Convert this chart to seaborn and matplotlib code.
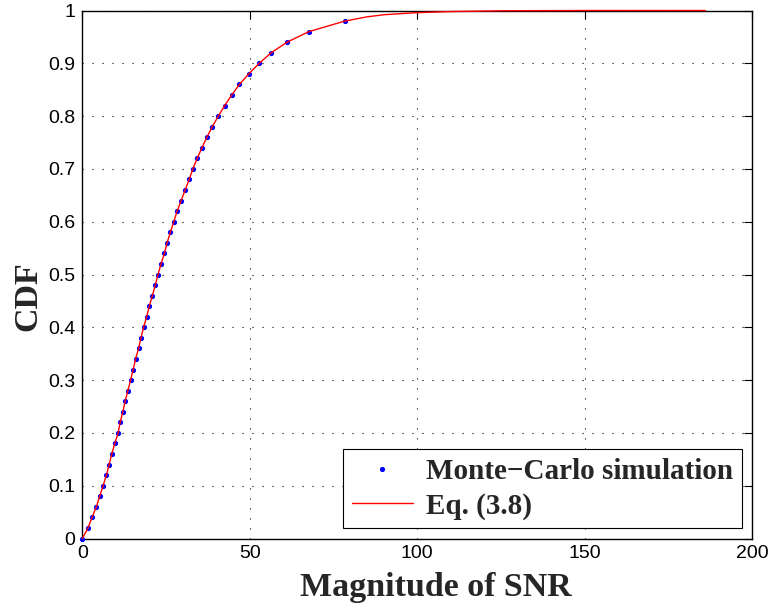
import matplotlib
matplotlib.use("Agg")
import matplotlib.pyplot as plt
import seaborn as sns
import pandas as pd

# Monte-Carlo simulation points
mc_snr = [0.0, 1.7, 2.9, 4.2, 5.2, 6.2, 7.2, 8.0, 8.8, 9.7,
          10.7, 11.3, 12.1, 12.8, 13.6, 14.4, 15.2, 15.9, 16.8, 17.5,
          18.3, 19.2, 20.0, 20.9, 21.8, 22.6, 23.5, 24.5, 25.3, 26.3,
          27.3, 28.3, 29.5, 30.7, 31.9, 33.0, 34.3, 35.7, 37.2, 38.8,
          40.6, 42.5, 44.6, 46.9, 49.7, 52.8, 56.4, 61.1, 67.6, 78.4]
mc_cdf = [0.00, 0.02, 0.04, 0.06, 0.08, 0.10, 0.12, 0.14, 0.16, 0.18,
          0.20, 0.22, 0.24, 0.26, 0.28, 0.30, 0.32, 0.34, 0.36, 0.38,
          0.40, 0.42, 0.44, 0.46, 0.48, 0.50, 0.52, 0.54, 0.56, 0.58,
          0.60, 0.62, 0.64, 0.66, 0.68, 0.70, 0.72, 0.74, 0.76, 0.78,
          0.80, 0.82, 0.84, 0.86, 0.88, 0.90, 0.92, 0.94, 0.96, 0.98]

# Eq. (3.8) curve
eq_snr = mc_snr + [85.0, 90.0, 100.0, 110.0, 125.0, 150.0, 186.0]
eq_cdf = mc_cdf + [0.988, 0.992, 0.996, 0.998, 0.9995, 1.0, 1.0]

x_ticks = [0, 50, 100, 150, 200]
y_ticks = [0, 0.1, 0.2, 0.3, 0.4, 0.5, 0.6, 0.7, 0.8, 0.9, 1]
y_tick_labels = ["0", "0.1", "0.2", "0.3", "0.4", "0.5", "0.6", "0.7", "0.8", "0.9", "1"]

sns.set_theme(style="white")
plt.rcParams["font.family"] = ["Liberation Sans", "DejaVu Sans"]

fig = plt.figure(figsize=(7.72, 6.04), dpi=100)
ax = fig.add_axes([0.1066, 0.1084, 0.8679, 0.8742])

mc_df = pd.DataFrame({"snr": mc_snr, "cdf": mc_cdf})
eq_df = pd.DataFrame({"snr": eq_snr, "cdf": eq_cdf})

ax.plot(mc_df["snr"], mc_df["cdf"], linestyle="none", marker=".",
        markersize=5.5, color="#0000ff", label="Monte\u2212Carlo simulation", zorder=4)
sns.lineplot(data=eq_df, x="snr", y="cdf", ax=ax, color="#ff0000", linewidth=1.0,
             label="Eq. (3.8)", sort=False, estimator=None, zorder=5)
for ln in ax.get_lines():
    ln.set_clip_on(False)

ax.set_xlim(0, 200)
ax.set_ylim(0, 1)
ax.set_xticks(x_ticks)
ax.set_yticks(y_ticks)
ax.set_yticklabels(y_tick_labels)
ax.tick_params(direction="in", length=6, width=0.8, top=True, right=True,
               labelsize=14, colors="black", pad=5)
for s in ax.spines.values():
    s.set_color("black")
    s.set_linewidth(1.0)
    s.set_zorder(3)

ax.grid(True, color="black", linestyle=(0, (1, 8)), linewidth=0.8)

serif_bold = dict(family=["Liberation Serif", "DejaVu Serif"], weight="bold", size=24.5)
ax.set_xlabel("Magnitude of SNR", fontdict=serif_bold)
ax.set_ylabel("CDF", fontdict=serif_bold)
ax.xaxis.set_label_coords(0.528, -0.063)
ax.yaxis.set_label_coords(-0.058, 0.46)

leg = ax.legend(loc="lower right", frameon=True, fancybox=False, framealpha=1,
                edgecolor="black", borderaxespad=0.35, handlelength=2.1,
                prop=dict(family="Liberation Serif", weight="bold", size=21),
                borderpad=0.3, labelspacing=0.25, handletextpad=0.45)
leg.get_frame().set_linewidth(0.8)
leg.set_zorder(6)

fig.savefig("out.png", dpi=100, facecolor="white")
